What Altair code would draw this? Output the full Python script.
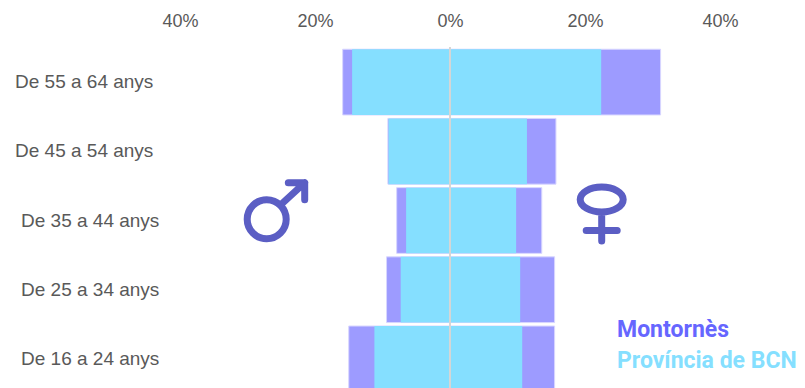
import altair as alt
import pandas as pd

ages = ["De 55 a 64 anys", "De 45 a 54 anys", "De 35 a 44 anys", "De 25 a 34 anys", "De 16 a 24 anys"]
mont_men = [-15.9, -9.2, -7.9, -9.4, -15.0]
mont_women = [31.2, 15.7, 13.6, 15.5, 15.5]
prov_men = [-14.5, -9.1, -6.5, -7.3, -11.2]
prov_women = [22.4, 11.4, 9.8, 10.4, 10.7]
ticks = [-40, -20, 0, 20, 40]

W, H = 789, 380
x_scale = alt.Scale(domain=[-65.48, 51.41], range=[0, W], nice=False, zero=False)
y_scale = alt.Scale(domain=ages, range=[39.5, 385.5], paddingInner=0.05, paddingOuter=0.025)

df = pd.DataFrame({"age": ages, "mm": mont_men, "mw": mont_women, "pm": prov_men, "pw": prov_women})
grey = "#595959"
icon = "#5b5ec4"

x_axis = alt.Axis(orient="top", values=ticks, labelExpr="abs(datum.value) + '%'", title=None,
                  domain=False, ticks=False, grid=False, labelFontSize=18, labelColor=grey,
                  labelFont="Liberation Sans", labelPadding=-22)

mont = alt.Chart(df).mark_bar(color="#9d9bff", stroke="#d8d6ff", strokeWidth=1, clip=True).encode(
    x=alt.X("mm:Q", scale=x_scale, axis=x_axis),
    x2="mw:Q",
    y=alt.Y("age:N", scale=y_scale, sort=ages, axis=None),
)
prov = alt.Chart(df).mark_bar(color="#85dfff", clip=True).encode(
    x=alt.X("pm:Q", scale=x_scale),
    x2="pw:Q",
    y=alt.Y("age:N", scale=y_scale, sort=ages),
)
zero = alt.Chart(pd.DataFrame({"v": [0]})).mark_rule(color="#d6d6d6", strokeWidth=2).encode(
    x=alt.X("v:Q", scale=x_scale),
    y=alt.value(39),
    y2=alt.value(H),
)

def age_text(rows, left):
    d = df[df["age"].isin(rows)]
    return alt.Chart(d).mark_text(align="left", baseline="middle", fontSize=19,
                                  font="Liberation Sans", color=grey).encode(
        x=alt.value(left), y=alt.Y("age:N", scale=y_scale, sort=ages), text="age:N")

labels_a = age_text(ages[:2], 7)
labels_b = age_text(ages[2:], 13)

def note(txt, px, py, size, color, font, weight="normal"):
    return alt.Chart(pd.DataFrame({"t": [txt]})).mark_text(
        align="left", baseline="alphabetic", fontSize=size, font=font, color=color, fontWeight=weight
    ).encode(x=alt.value(px), y=alt.value(py), text="t:N")

def symbol(path, px, py):
    return alt.Chart(pd.DataFrame({"s": ["i"]})).mark_point(
        shape=path, size=4, filled=False, stroke=icon, strokeWidth=7, strokeCap="round",
        strokeJoin="round", opacity=1
    ).encode(x=alt.value(px), y=alt.value(py))

male_path = ("M-19.5,0A19.5,19.5,0,1,1,19.5,0A19.5,19.5,0,1,1,-19.5,0Z"
             "M13.5,-14L38,-36.6M21.6,-36.6L38,-36.6L38,-19.5")
female_path = ("M-21.5,0A21.5,12.5,0,1,1,21.5,0A21.5,12.5,0,1,1,-21.5,0Z"
               "M0,12.5L0,41.5M-15.5,31L15.5,31")
male = symbol(male_path, 258.7, 211.3)
female = symbol(female_path, 593.7, 191.5)
leg1 = note("Montornès", 609, 329, 23, "#6666ff", "Roboto", "bold")
leg2 = note("Província de BCN", 609, 360, 23, "#85dfff", "Roboto", "bold")

chart = alt.layer(mont, prov, zero, labels_a, labels_b, male, female, leg1, leg2).resolve_scale(
    y="shared", x="shared"
).properties(
    width=W, height=H, padding=0, autosize=alt.AutoSizeParams(type="none"),
    background="white"
).configure_view(stroke=None)

chart.save("out.html", embed_options={"renderer": "svg", "actions": False})
